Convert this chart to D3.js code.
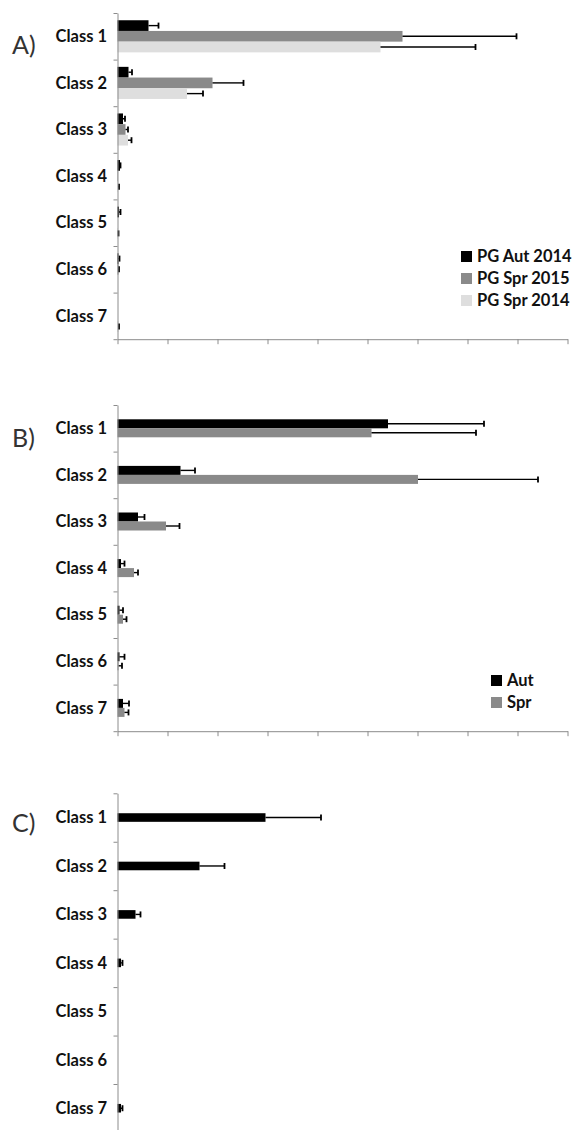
<!DOCTYPE html>
<html>
<head>
<meta charset="utf-8">
<script src="https://cdn.jsdelivr.net/npm/d3@7"></script>
<style>
  html, body { margin: 0; padding: 0; background: #fff; }
  svg { display: block; }
  text { font-family: Lato, "Open Sans", "DejaVu Sans", sans-serif; }
</style>
</head>
<body>
<svg id="chart" width="574" height="1130"></svg>
<script>
// ---------- DATA ----------
const categories = ["Class 1", "Class 2", "Class 3", "Class 4", "Class 5", "Class 6", "Class 7"];
const xTicks = [0, 10, 20, 30, 40, 50, 60, 70, 80, 90];

// Panel A
const aSeriesNames = ["PG Aut 2014", "PG Spr 2015", "PG Spr 2014"];
const aAut2014     = [6.2, 2.2, 1.1, 0.5, 0.3, 0.2, 0];
const aAut2014Err  = [2.0, 0.7, 0.4, 0.1, 0.3, 0.2, 0];
const aSpr2015     = [57.0, 19.0, 1.6, 0.1, 0, 0.2, 0];
const aSpr2015Err  = [22.8, 6.2, 0.5, 0, 0, 0.1, 0];
const aSpr2014     = [52.6, 13.9, 2.1, 0.1, 0.1, 0, 0.2];
const aSpr2014Err  = [19.0, 3.2, 0.7, 0.2, 0.1, 0, 0.1];

// Panel B
const bSeriesNames = ["Aut", "Spr"];
const bAut    = [54.1, 12.6, 4.1, 0.7, 0.4, 0.4, 1.1];
const bAutErr = [19.2, 2.9, 1.3, 0.7, 0.7, 1.0, 1.2];
const bSpr    = [50.8, 60.1, 9.7, 3.3, 1.1, 0.2, 1.4];
const bSprErr = [20.9, 24.0, 2.7, 0.8, 0.7, 0.7, 0.8];

// Panel C
const cValues = [29.6, 16.4, 3.6, 0.7, 0, 0, 0.7];
const cErr    = [11.1, 5.0, 1.0, 0.3, 0, 0, 0.3];

// ---------- STYLE / LAYOUT ----------
const COLORS = { black: "#000000", dark: "#8a8a8a", light: "#dedede" };
const svg = d3.select("#chart");
const x = d3.scaleLinear().domain([0, 90]).range([117.5, 567.5]);

const panels = [
  { label: "A)", labelY: 45, top: 13, band: 46.6, barH: 10.7,
    series: [
      { name: aSeriesNames[0], values: aAut2014, err: aAut2014Err, color: COLORS.black },
      { name: aSeriesNames[1], values: aSpr2015, err: aSpr2015Err, color: COLORS.dark },
      { name: aSeriesNames[2], values: aSpr2014, err: aSpr2014Err, color: COLORS.light }
    ],
    legend: { x: 461, y: 251, step: 22 } },
  { label: "B)", labelY: 438, top: 405, band: 46.6, barH: 9,
    series: [
      { name: bSeriesNames[0], values: bAut, err: bAutErr, color: COLORS.black },
      { name: bSeriesNames[1], values: bSpr, err: bSprErr, color: COLORS.dark }
    ],
    legend: { x: 491, y: 675, step: 22 } },
  { label: "C)", labelY: 823, top: 793.3, band: 48.45, barH: 8.6,
    series: [
      { name: "C", values: cValues, err: cErr, color: COLORS.black }
    ],
    legend: null }
];

panels.forEach(p => {
  const g = svg.append("g");
  const bottom = p.top + p.band * categories.length;
  const y = d3.scaleBand().domain(categories).range([p.top, bottom]).padding(0);
  const names = p.series.map(s => s.name);
  const n = names.length;
  const c = p.band / 2;
  const ySub = d3.scaleBand().domain(names)
    .range([c - n * p.barH / 2, c + n * p.barH / 2]).padding(0);

  // bars
  p.series.forEach(s => {
    const sg = g.append("g");
    sg.selectAll("rect").data(categories).join("rect")
      .attr("x", x(0))
      .attr("y", (d) => y(d) + ySub(s.name))
      .attr("width", (d, i) => Math.max(0, x(s.values[i]) - x(0)))
      .attr("height", ySub.bandwidth())
      .attr("fill", s.color);
  });

  // error bars
  p.series.forEach(s => {
    const eg = g.append("g").attr("stroke", "#000");
    categories.forEach((cat, i) => {
      if (!(s.err[i] > 0)) return;
      const yc = y(cat) + ySub(s.name) + ySub.bandwidth() / 2;
      const x0 = x(s.values[i]);
      const x1 = x(s.values[i] + s.err[i]);
      eg.append("line").attr("x1", x0).attr("x2", x1).attr("y1", yc).attr("y2", yc)
        .attr("stroke-width", 1.4);
      eg.append("line").attr("x1", x1).attr("x2", x1).attr("y1", yc - 3).attr("y2", yc + 3)
        .attr("stroke-width", 1.8);
    });
  });

  // y axis with ticks at category boundaries
  const yb = d3.scaleLinear().domain([0, categories.length]).range([p.top, bottom]);
  const yAxis = g.append("g").attr("transform", `translate(${x(0)},0)`)
    .call(d3.axisLeft(yb).tickValues(d3.range(0, categories.length + 1))
      .tickSize(4).tickSizeOuter(0).tickFormat(""));
  yAxis.selectAll("path, line").attr("stroke", "#8c8c8c").attr("stroke-width", 1);

  // x axis (no labels)
  const xAxis = g.append("g").attr("transform", `translate(0,${bottom})`)
    .call(d3.axisBottom(x).tickValues(xTicks).tickSize(5).tickSizeOuter(0).tickFormat(""));
  xAxis.selectAll("path, line").attr("stroke", "#8c8c8c").attr("stroke-width", 1);

  // category labels
  g.append("g").selectAll("text").data(categories).join("text")
    .attr("x", 107)
    .attr("y", d => y(d) + y.bandwidth() / 2)
    .attr("dy", "0.35em")
    .attr("text-anchor", "end")
    .attr("font-size", 16.5)
    .attr("font-weight", "bold")
    .attr("fill", "#111")
    .text(d => d);

  // panel label
  g.append("text").attr("x", 12).attr("y", p.labelY).attr("dy", "0.35em")
    .attr("font-size", 25).attr("font-weight", 400).attr("fill", "#333").text(p.label);

  // legend
  if (p.legend) {
    const lg = g.append("g").attr("transform", `translate(${p.legend.x},${p.legend.y})`);
    const items = lg.selectAll("g").data(p.series).join("g")
      .attr("transform", (d, i) => `translate(0,${i * p.legend.step})`);
    items.append("rect").attr("width", 11).attr("height", 11).attr("fill", d => d.color);
    items.append("text").attr("x", 16).attr("y", 5.5).attr("dy", "0.35em")
      .attr("font-size", 16.5).attr("font-weight", "bold").attr("fill", "#111")
      .text(d => d.name);
  }
});
</script>
</body>
</html>
